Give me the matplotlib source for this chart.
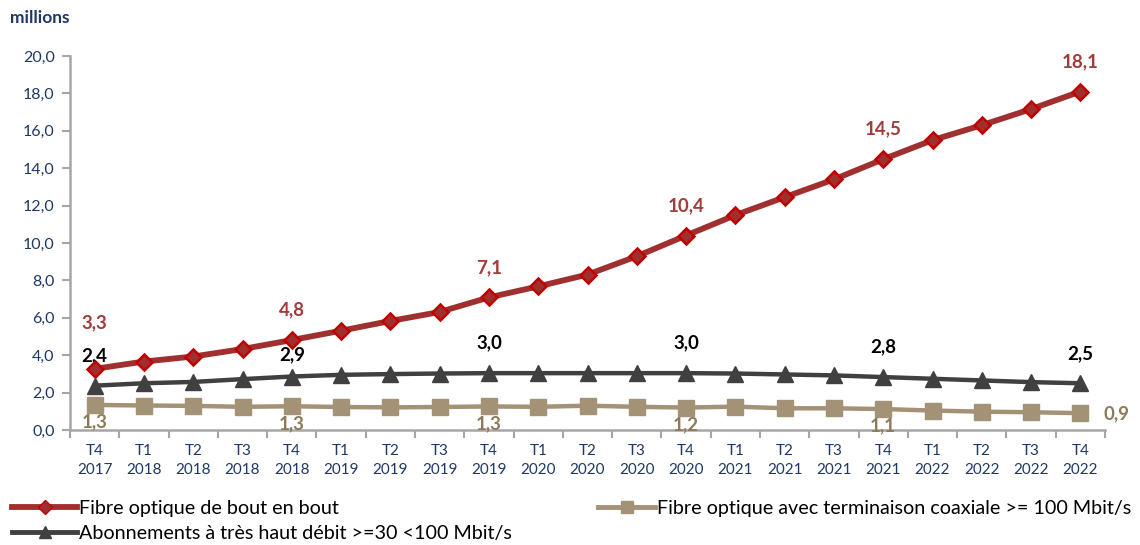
import matplotlib
matplotlib.use("Agg")
import matplotlib.pyplot as plt
from matplotlib.lines import Line2D

plt.rcParams['font.family'] = ['Lato', 'DejaVu Sans']

quarters = ["T4", "T1", "T2", "T3", "T4", "T1", "T2", "T3", "T4", "T1", "T2",
            "T3", "T4", "T1", "T2", "T3", "T4", "T1", "T2", "T3", "T4"]
years = ["2017", "2018", "2018", "2018", "2018", "2019", "2019", "2019", "2019",
         "2020", "2020", "2020", "2020", "2021", "2021", "2021", "2021",
         "2022", "2022", "2022", "2022"]

fibre = [3.27, 3.66, 3.93, 4.33, 4.81, 5.31, 5.83, 6.31, 7.09, 7.68, 8.31,
         9.29, 10.40, 11.49, 12.45, 13.40, 14.48, 15.50, 16.30, 17.16, 18.10]
thd = [2.37, 2.50, 2.57, 2.72, 2.86, 2.95, 2.99, 3.02, 3.04, 3.04, 3.04,
       3.04, 3.04, 3.02, 2.97, 2.92, 2.83, 2.74, 2.65, 2.56, 2.50]
coax = [1.34, 1.31, 1.29, 1.24, 1.27, 1.23, 1.21, 1.23, 1.26, 1.24, 1.30,
        1.24, 1.20, 1.25, 1.16, 1.16, 1.12, 1.04, 0.98, 0.95, 0.90]

fibre_lbl_idx = [0, 4, 8, 12, 16, 20]
thd_lbl_idx = [0, 4, 8, 12, 16, 20]
coax_lbl_idx = [0, 4, 8, 12, 16, 20]

fibre_label = "Fibre optique de bout en bout"
coax_label = "Fibre optique avec terminaison coaxiale >= 100 Mbit/s"
thd_label = "Abonnements à très haut débit >=30 <100 Mbit/s"

RED = "#A0302F"
RED_EDGE = "#C00000"
RED_TXT = "#A23B3B"
BLK = "#404040"
TAN = "#A39275"
TAN_TXT = "#8C7A5B"
NAVY = "#1F3864"

def fmt(v):
    return f"{v:.1f}".replace(".", ",")

fig = plt.figure(figsize=(11.4, 5.45), dpi=100)
ax = fig.add_axes([70/1140, (545-430)/545, (1105-70)/1140, (430-56)/545])

x = list(range(len(quarters)))
ax.plot(x, coax, color=TAN, lw=3.2, marker="s", ms=11, mfc=TAN, mec=TAN, zorder=3)
ax.plot(x, thd, color=BLK, lw=3.2, marker="^", ms=11, mfc=BLK, mec=BLK, zorder=4)
ax.plot(x, fibre, color=RED, lw=4.2, marker="D", ms=8.5, mfc=RED, mec=RED_EDGE, mew=1.8, zorder=5)

LBL_FS = 13.5
for i in fibre_lbl_idx:
    dy = 46 if i == 0 else 30
    ax.annotate(fmt(fibre[i]), (i, fibre[i]), xytext=(0, dy), textcoords="offset pixels",
                ha="center", va="center", color=RED_TXT, fontsize=LBL_FS, fontweight="bold")
for i in thd_lbl_idx:
    dy = 22 if i == 4 else 30
    ax.annotate(fmt(thd[i]), (i, thd[i]), xytext=(0, dy), textcoords="offset pixels",
                ha="center", va="center", color="black", fontsize=LBL_FS, fontweight="bold")
for i in coax_lbl_idx:
    if i == 20:
        ax.annotate(fmt(coax[i]), (i, coax[i]), xytext=(36, -1), textcoords="offset pixels",
                    ha="center", va="center", color=TAN_TXT, fontsize=LBL_FS, fontweight="bold")
    else:
        ax.annotate(fmt(coax[i]), (i, coax[i]), xytext=(0, -17), textcoords="offset pixels",
                    ha="center", va="center", color=TAN_TXT, fontsize=LBL_FS, fontweight="bold")

ax.set_xlim(-0.5, len(quarters) - 0.5)
ax.set_ylim(0, 20)
ax.set_yticks([i * 2 for i in range(11)])
ax.set_yticklabels([fmt(i * 2) for i in range(11)], color=NAVY, fontsize=11.5)
ax.set_xticks(x)
ax.set_xticklabels([f"{q}\n{y}" for q, y in zip(quarters, years)], color=NAVY, fontsize=11,
                   linespacing=1.45)
ax.set_xticks([i - 0.5 for i in range(len(quarters) + 1)], minor=True)
ax.tick_params(axis="x", which="major", length=0, pad=10)
ax.tick_params(axis="x", which="minor", length=6, width=1.5, color="#A6A6A6", direction="out")
ax.tick_params(axis="y", length=6, width=1.5, color="#A6A6A6", direction="out", pad=5)

for s in ["top", "right"]:
    ax.spines[s].set_visible(False)
for s in ["left", "bottom"]:
    ax.spines[s].set_color("#A6A6A6")
    ax.spines[s].set_linewidth(1.8)

fig.text(10/1140, 1 - 18/545, "millions", color=NAVY, fontsize=12.5, fontweight="bold",
         ha="left", va="center")

h_fibre = Line2D([], [], color=RED, lw=4.2, marker="D", ms=7, mfc=RED, mec=RED_EDGE)
h_coax = Line2D([], [], color=TAN, lw=3.5, marker="s", ms=8, mfc=TAN, mec=TAN)
h_thd = Line2D([], [], color=BLK, lw=3.5, marker="^", ms=8, mfc=BLK, mec=BLK)

LEG_FS = 14.2
leg1 = fig.legend([h_fibre, h_thd], [fibre_label, thd_label], loc="upper left",
                  bbox_to_anchor=(12/1140, 1 - 500/545), frameon=False, fontsize=LEG_FS,
                  handlelength=3.3, handletextpad=0.1, labelspacing=0.4, borderpad=0,
                  borderaxespad=0)
leg2 = fig.legend([h_coax], [coax_label], loc="upper left",
                  bbox_to_anchor=(598/1140, 1 - 500/545), frameon=False, fontsize=LEG_FS,
                  handlelength=2.9, handletextpad=0.1, borderpad=0, borderaxespad=0)

fig.savefig("out.png", dpi=100)
